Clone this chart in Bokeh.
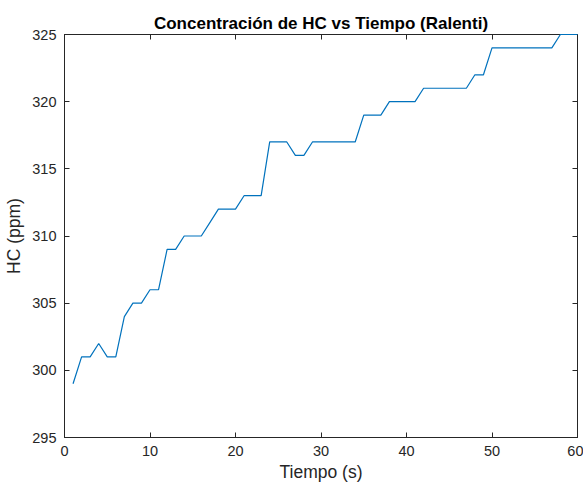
from bokeh.plotting import figure
from bokeh.models import LinearAxis, Range1d, FixedTicker, CustomJSTickFormatter
from bokeh.embed import file_html
from bokeh.resources import INLINE

tiempo = list(range(1, 61))
hc = [299, 301, 301, 302, 301, 301, 304, 305, 305, 306,
      306, 309, 309, 310, 310, 310, 311, 312, 312, 312,
      313, 313, 313, 317, 317, 317, 316, 316, 317, 317,
      317, 317, 317, 317, 319, 319, 319, 320, 320, 320,
      320, 321, 321, 321, 321, 321, 321, 322, 322, 324,
      324, 324, 324, 324, 324, 324, 324, 325, 325, 325]
x_ticks = [0, 10, 20, 30, 40, 50, 60]
y_ticks = [295, 300, 305, 310, 315, 320, 325]

FONT = "Liberation Sans"
AX = "#262626"

p = figure(width=583, height=487, output_backend="svg", toolbar_location=None,
           x_range=Range1d(0, 60), y_range=Range1d(295, 325),
           min_border_left=64, min_border_right=6, min_border_top=34, min_border_bottom=50,
           background_fill_color="white", border_fill_color="white")

p.title.text = "Concentración de HC vs Tiempo (Ralenti)"
p.title.text_font = FONT
p.title.text_font_size = "17px"
p.title.text_font_style = "bold"
p.title.text_color = "#000000"
p.title.align = "center"
p.title.standoff = 4

p.xgrid.visible = False
p.ygrid.visible = False
p.outline_line_color = AX
p.outline_line_width = 1

for ax in (p.xaxis[0], p.yaxis[0]):
    ax.major_tick_in = 5
    ax.major_tick_out = 0
    ax.minor_tick_line_color = None
    ax.axis_line_color = AX
    ax.major_tick_line_color = AX
    ax.major_label_text_color = AX
    ax.major_label_text_font = FONT
    ax.major_label_text_font_size = "14.5px"
    ax.axis_label_text_font = FONT
    ax.axis_label_text_font_size = "17.5px"
    ax.axis_label_text_font_style = "normal"
    ax.axis_label_text_color = AX

p.xaxis[0].ticker = FixedTicker(ticks=x_ticks)
p.yaxis[0].ticker = FixedTicker(ticks=y_ticks)
p.xaxis[0].axis_label = "Tiempo (s)"
p.yaxis[0].axis_label = "HC (ppm)"
p.xaxis[0].major_label_standoff = 8
p.yaxis[0].major_label_standoff = 8
p.xaxis[0].axis_label_standoff = 3
p.yaxis[0].axis_label_standoff = 5

empty = CustomJSTickFormatter(code="return '';")
for loc, ticks in (("above", x_ticks), ("right", y_ticks)):
    a = LinearAxis(ticker=FixedTicker(ticks=ticks), formatter=empty)
    a.major_tick_in = 5
    a.major_tick_out = 0
    a.minor_tick_line_color = None
    a.axis_line_color = AX
    a.major_tick_line_color = AX
    a.major_label_standoff = 0
    a.major_label_text_font_size = "1px"
    p.add_layout(a, loc)

r = p.line(tiempo, hc, line_color="#0072BD", line_width=1.2)
r.level = "overlay"

open("out.html", "w").write(file_html(p, INLINE))
